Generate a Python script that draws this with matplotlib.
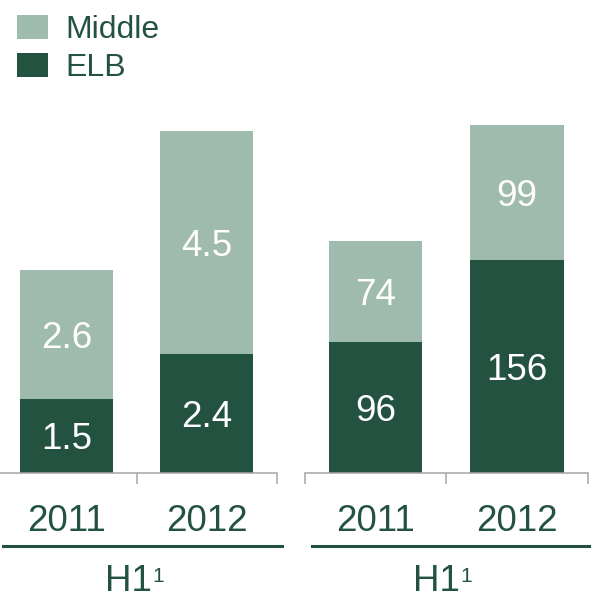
import matplotlib.pyplot as plt
from matplotlib.lines import Line2D
import numpy as np

plt.rcParams['font.family'] = ['Liberation Sans', 'DejaVu Sans']

# Data
years = ['2011', '2012']
elb_left = [1.5, 2.4]
middle_left = [2.6, 4.5]
elb_right = [96, 156]
middle_right = [74, 99]

dark = '#235340'
light = '#9FBBAD'
grey = '#A6A6A6'
big = 26.5

W, H = 591, 599
fig = plt.figure(figsize=(W / 100, H / 100), dpi=100)


def px(x0, y0, w, h):
    # pixel box (top-left origin) -> figure fraction rect
    return [x0 / W, 1 - (y0 + h) / H, w / W, h / H]


def seg_label(ax, x, y, val):
    # digits centred visually in the segment
    ax.annotate(f'{val:g}', (x, y), xytext=(0, -0.358 * big), textcoords='offset points',
                ha='center', va='baseline', color='white', fontsize=big)


def draw_panel(ax, elb, middle, ymax):
    x = np.arange(len(years))
    b1 = ax.bar(x, elb, width=0.664, color=dark, label='ELB')
    b2 = ax.bar(x, middle, width=0.664, bottom=elb, color=light, label='Middle')
    for xi, e, m in zip(x, elb, middle):
        seg_label(ax, xi, e / 2, e)
        seg_label(ax, xi, e + m / 2, m)
    ax.set_xlim(-0.5, 1.5)
    ax.set_ylim(0, ymax)
    for s in ['top', 'left', 'right']:
        ax.spines[s].set_visible(False)
    ax.spines['bottom'].set_color(grey)
    ax.spines['bottom'].set_linewidth(1.1)
    ax.set_yticks([])
    ax.set_xticks(x)
    ax.set_xticklabels(years, fontsize=big, color=dark)
    ax.tick_params(axis='x', which='major', length=0, pad=22)
    ax.set_xticks([-0.5, 0.5, 1.5], minor=True)
    ax.tick_params(axis='x', which='minor', length=8, width=1.1, color=grey, direction='out')
    ax.patch.set_visible(False)
    return b1, b2


ax1 = fig.add_axes(px(-3.5, 110, 280, 363))
bars_elb, bars_mid = draw_panel(ax1, elb_left, middle_left, 363 / 49.5)

ax2 = fig.add_axes(px(304.75, 110, 283, 363))
draw_panel(ax2, elb_right, middle_right, 363 / 1.363)

# underline and "H1" group label with footnote mark for each panel
for x0, x1, xe in [(3, 282, 152), (312, 590, 460)]:
    fig.add_artist(Line2D([x0 / W, x1 / W], [1 - 546 / H] * 2, color=dark, lw=2.2))
    fig.text(xe / W, 1 - 591 / H, 'H1', ha='right', va='baseline', fontsize=big, color=dark)
    fig.text(xe / W, 1 - 582 / H, '1', ha='left', va='baseline', fontsize=15, color=dark)

leg = fig.legend([bars_mid, bars_elb], ['Middle', 'ELB'], loc='upper left',
                 bbox_to_anchor=(17 / W, 1 - 15 / H), frameon=False, fontsize=23,
                 handlelength=0.97, handleheight=0.78, handletextpad=0.56,
                 labelspacing=0.25, borderpad=0, borderaxespad=0)
for t in leg.get_texts():
    t.set_color(dark)

fig.savefig('out.png', dpi=100)
